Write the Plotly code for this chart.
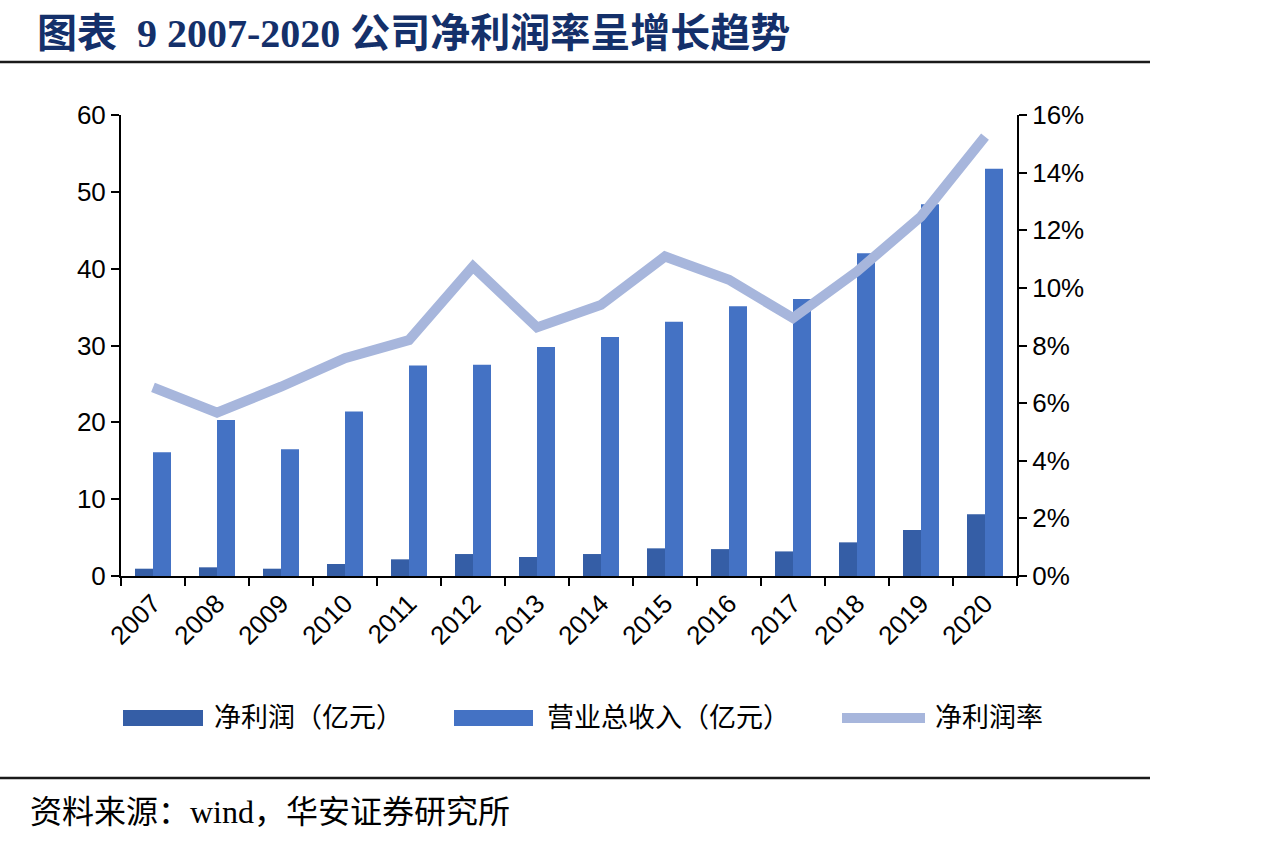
import plotly.graph_objects as go

years = ["2007", "2008", "2009", "2010", "2011", "2012", "2013",
         "2014", "2015", "2016", "2017", "2018", "2019", "2020"]
net_profit = [0.95, 1.13, 0.95, 1.56, 2.17, 2.86, 2.47,
              2.86, 3.6, 3.5, 3.2, 4.38, 5.99, 8.03]
revenue = [16.1, 20.3, 16.5, 21.4, 27.4, 27.5, 29.8,
           31.1, 33.1, 35.1, 36.05, 42.0, 48.4, 53.0]
net_margin = [0.0655, 0.0567, 0.0657, 0.0756, 0.0819, 0.1074, 0.0863,
              0.0941, 0.1109, 0.1028, 0.0895, 0.1057, 0.1248, 0.1525]

names = ["净利润（亿元）", "营业总收入（亿元）", "净利润率"]
title_text = "图表  9 2007-2020 公司净利润率呈增长趋势"
source_text = "资料来源：wind，华安证券研究所"

C_NET = "#355EA6"
C_REV = "#4472C4"
C_LINE = "#A7B6DC"

W, H = 1284, 844
L, R, T, B = 121, 1017, 115, 576


def px(x):
    return (x - L) / (R - L)


def py(y):
    return (B - y) / (B - T)


fig = go.Figure()
fig.add_trace(go.Bar(x=years, y=net_profit, name=names[0], marker_color=C_NET,
                     marker_line_width=0, yaxis="y"))
fig.add_trace(go.Bar(x=years, y=revenue, name=names[1], marker_color=C_REV,
                     marker_line_width=0, yaxis="y"))
fig.add_trace(go.Scatter(x=years, y=net_margin, name=names[2], mode="lines",
                         line=dict(color=C_LINE, width=10), yaxis="y2"))

tick_font = dict(family="Liberation Sans, Arial, sans-serif", size=26, color="#000")
cjk = "Liberation Serif, Noto Sans CJK SC, serif"

fig.update_layout(
    width=W, height=H,
    margin=dict(l=L, r=W - R, t=T, b=H - B),
    paper_bgcolor="white", plot_bgcolor="white",
    barmode="group", bargap=0.4375, bargroupgap=0,
    showlegend=False,
    xaxis=dict(type="category", showline=True, linecolor="#000", linewidth=2,
               ticks="outside", tickson="boundaries", ticklen=8, tickwidth=2,
               tickcolor="#000", tickangle=-45, tickfont=tick_font,
               showgrid=False, zeroline=False),
    yaxis=dict(range=[0, 60], dtick=10, showline=True, linecolor="#000",
               linewidth=2, ticks="outside", ticklen=8, tickwidth=2,
               tickcolor="#000", tickfont=tick_font, showgrid=False,
               zeroline=False),
    yaxis2=dict(range=[0, 0.16], dtick=0.02, tickformat=".0%", overlaying="y",
                side="right", showline=True, linecolor="#000", linewidth=2,
                ticks="outside", ticklen=8, tickwidth=2, tickcolor="#000",
                tickfont=tick_font, showgrid=False, zeroline=False),
)

shapes = []
# horizontal rules
for yy in (62, 778):
    shapes.append(dict(type="line", xref="paper", yref="paper",
                       x0=px(0), x1=px(1150), y0=py(yy), y1=py(yy),
                       line=dict(color="#1a1a1a", width=2.5)))
# legend swatches
shapes.append(dict(type="rect", xref="paper", yref="paper",
                   x0=px(123), x1=px(203), y0=py(726), y1=py(710),
                   fillcolor=C_NET, line=dict(width=0)))
shapes.append(dict(type="rect", xref="paper", yref="paper",
                   x0=px(454), x1=px(533), y0=py(726), y1=py(710),
                   fillcolor=C_REV, line=dict(width=0)))
shapes.append(dict(type="line", xref="paper", yref="paper",
                   x0=px(842), x1=px(925), y0=py(718), y1=py(718),
                   line=dict(color=C_LINE, width=10)))

annotations = [
    dict(text=title_text, xref="paper", yref="paper", x=px(35), y=py(33),
         xanchor="left", yanchor="middle", showarrow=False,
         font=dict(family=cjk, size=40, color="#14306A", weight="bold")),
    dict(text=source_text, xref="paper", yref="paper", x=px(28), y=py(812),
         xanchor="left", yanchor="middle", showarrow=False,
         font=dict(family=cjk, size=32, color="#000")),
]
for xx, label in zip((212, 545, 933), names):
    annotations.append(dict(text=label, xref="paper", yref="paper", x=px(xx),
                            y=py(718), xanchor="left", yanchor="middle",
                            showarrow=False,
                            font=dict(family=cjk, size=27, color="#000")))

fig.update_layout(shapes=shapes, annotations=annotations)
fig.write_html("out.html")
